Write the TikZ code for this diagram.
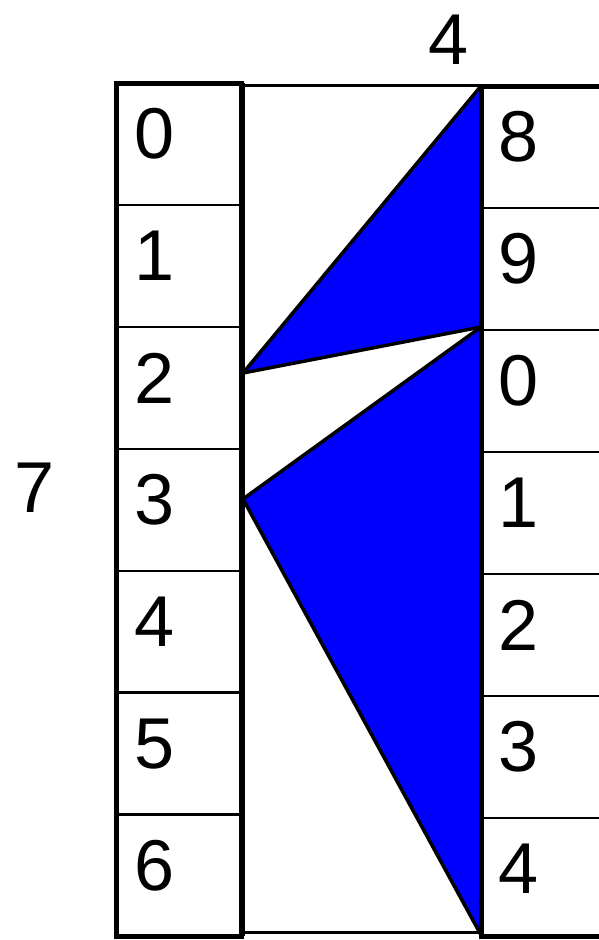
\documentclass[tikz,border=0pt]{standalone}
\usepackage{fontspec}
\setmainfont{Liberation Sans}
\tikzset{
  thickline/.style={line width=5pt, line cap=rect},
  thinline/.style={line width=2.2pt},
  tri/.style={fill={rgb,255:red,0;green,0;blue,255}, draw=black, line width=3.5pt, line join=round},
  digit/.style={inner sep=0pt, font=\fontsize{72}{80}\selectfont}
}
\begin{document}
\begin{tikzpicture}[x=1pt,y=-1pt]
\useasboundingbox (0,0) rectangle (599,940);
% key points
\coordinate (A) at (243,373);
\coordinate (B) at (481,86);
\coordinate (C) at (481,327);
\coordinate (D) at (243,499);
\coordinate (E) at (481,935);
% triangles
\draw[tri] (A) -- (B) -- (C) -- cycle;
\draw[tri] (D) -- (C) -- (E) -- cycle;
% left column dividers
\foreach \i in {1,...,6} {
  \draw[thinline] (116.5,{83+121.9*\i}) -- (241.5,{83+121.9*\i});
}
% right column dividers
\foreach \i in {1,...,6} {
  \draw[thinline] (481,{86+122*\i}) -- (599,{86+122*\i});
}
% connecting thin lines
\draw[line width=3pt] (241.5,85) -- (481,85);
\draw[line width=3pt] (241.5,932.5) -- (481,932.5);
% left column frame
\draw[thickline] (116.5,83) rectangle (241.5,936);
\draw[line width=6pt] (241.5,83) -- (241.5,936);
% right column frame
\draw[thickline] (600,86.5) -- (481,86.5) -- (481,936.5) -- (600,936.5);
% left digits
\foreach \d [count=\i from 0] in {0,1,2,3,4,5,6} {
  \node[digit] (L\i) at (154.5,{134+122*\i}) {\d};
}
% right digits
\foreach \d [count=\i from 0] in {8,9,0,1,2,3,4} {
  \node[digit] (R\i) at (519,{137+122*\i}) {\d};
}
% outer labels
\node[digit] (top) at (449,40) {4};
\node[digit] (side) at (35,488) {7};
\end{tikzpicture}
\end{document}
